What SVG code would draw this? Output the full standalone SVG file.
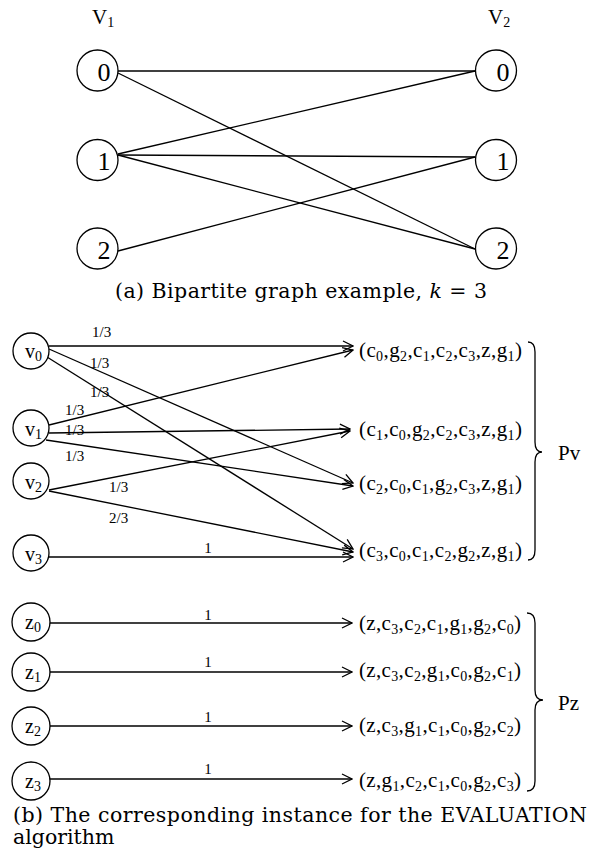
<svg xmlns="http://www.w3.org/2000/svg" width="602" height="859" viewBox="0 0 602 859" font-family="Liberation Serif, Times New Roman, Times, serif">
<style>
  text { fill: #000; }
  .nd { fill: #fff; stroke: #000; stroke-width: 1.3; }
  .ln { stroke: #000; stroke-width: 1.3; fill: none; }
  .ar { stroke: #000; stroke-width: 1.3; fill: none; marker-end: url(#arr); }
  .big { font-size: 26px; text-anchor: middle; }
  .hdr { font-size: 21px; }
  .lab { font-size: 20px; }
  .tgt { font-size: 21px; }
  .s { font-size: 14px; }
  .w { font-size: 15px; }
  .cap { font-size: 20.5px; font-family: 'DejaVu Serif', 'Liberation Serif', serif; }
  .brace { stroke: #000; stroke-width: 1.3; fill: none; }
</style>
<defs>
  <marker id="arr" viewBox="0 0 12 12" refX="11" refY="6" markerWidth="12" markerHeight="12" markerUnits="userSpaceOnUse" orient="auto">
    <path d="M1,1 L11,6 L1,11" fill="none" stroke="#000" stroke-width="1.3"/>
  </marker>
</defs>

<!-- Part (a) -->
<g id="hdr-V1"><text class="hdr" x="92" y="24">V<tspan class="s" dy="3">1</tspan></text></g>
<g id="hdr-V2"><text class="hdr" x="488" y="24">V<tspan class="s" dy="3">2</tspan></text></g>

<g id="connectors-a">
  <line class="ln" x1="118" y1="71" x2="475" y2="71"/>
  <line class="ln" x1="118" y1="73" x2="475" y2="249"/>
  <line class="ln" x1="118" y1="154" x2="475" y2="71"/>
  <line class="ln" x1="118" y1="155" x2="475" y2="157"/>
  <line class="ln" x1="118" y1="155" x2="475" y2="249"/>
  <line class="ln" x1="118" y1="251" x2="475" y2="157"/>
</g>

<g id="L0"><circle class="nd" cx="97.5" cy="70.5" r="20.5"/><text class="big" x="104" y="81">0</text></g>
<g id="L1"><circle class="nd" cx="97.5" cy="160" r="20.5"/><text class="big" x="104" y="170">1</text></g>
<g id="L2"><circle class="nd" cx="97.5" cy="248.5" r="20.5"/><text class="big" x="104" y="259">2</text></g>
<g id="R0"><circle class="nd" cx="496" cy="70.5" r="20.5"/><text class="big" x="503" y="81">0</text></g>
<g id="R1"><circle class="nd" cx="496" cy="160" r="20.5"/><text class="big" x="503" y="170">1</text></g>
<g id="R2"><circle class="nd" cx="496" cy="248.5" r="20.5"/><text class="big" x="503" y="259">2</text></g>

<g id="caption-a"><text class="cap" x="115" y="298" textLength="372">(a) Bipartite graph example, <tspan font-style="italic">k</tspan> = 3</text></g>

<!-- Part (b) connectors -->
<g id="connectors-b">
  <line class="ar" x1="49" y1="346" x2="353" y2="346"/>
  <line class="ar" x1="49" y1="349" x2="353" y2="483"/>
  <line class="ar" x1="47" y1="357" x2="353" y2="549"/>
  <line class="ar" x1="49" y1="425" x2="353" y2="350"/>
  <line class="ar" x1="49" y1="433" x2="350" y2="429"/>
  <line class="ar" x1="46" y1="440" x2="353" y2="486"/>
  <line class="ar" x1="49" y1="490" x2="350" y2="431"/>
  <line class="ar" x1="49" y1="491" x2="353" y2="552"/>
  <line class="ar" x1="49" y1="557" x2="353" y2="557"/>
  <line class="ar" x1="49" y1="623" x2="352" y2="623"/>
  <line class="ar" x1="49" y1="672" x2="352" y2="672"/>
  <line class="ar" x1="49" y1="726" x2="352" y2="726"/>
  <line class="ar" x1="49" y1="779" x2="352" y2="779"/>
  <text class="w" x="92" y="337">1/3</text>
  <text class="w" x="90" y="368">1/3</text>
  <text class="w" x="90" y="397">1/3</text>
  <text class="w" x="65" y="415">1/3</text>
  <text class="w" x="65" y="435">1/3</text>
  <text class="w" x="65" y="461">1/3</text>
  <text class="w" x="109" y="492">1/3</text>
  <text class="w" x="109" y="523">2/3</text>
  <text class="w" x="208" y="553" text-anchor="middle">1</text>
  <text class="w" x="208" y="620" text-anchor="middle">1</text>
  <text class="w" x="208" y="667" text-anchor="middle">1</text>
  <text class="w" x="208" y="722" text-anchor="middle">1</text>
  <text class="w" x="208" y="774" text-anchor="middle">1</text>
</g>

<!-- Part (b) source nodes -->
<g id="v0"><circle class="nd" cx="31" cy="351" r="18"/><text class="lab" x="25" y="358">v<tspan class="s" dy="3">0</tspan></text></g>
<g id="v1"><circle class="nd" cx="31" cy="428" r="18"/><text class="lab" x="25" y="436">v<tspan class="s" dy="3">1</tspan></text></g>
<g id="v2"><circle class="nd" cx="31" cy="481" r="18"/><text class="lab" x="25" y="489">v<tspan class="s" dy="3">2</tspan></text></g>
<g id="v3"><circle class="nd" cx="31" cy="553" r="18"/><text class="lab" x="25" y="561">v<tspan class="s" dy="3">3</tspan></text></g>
<g id="z0"><circle class="nd" cx="31" cy="622" r="19"/><text class="lab" x="25" y="629">z<tspan class="s" dy="3">0</tspan></text></g>
<g id="z1"><circle class="nd" cx="31" cy="672" r="19"/><text class="lab" x="25" y="679">z<tspan class="s" dy="3">1</tspan></text></g>
<g id="z2"><circle class="nd" cx="31" cy="726" r="19"/><text class="lab" x="25" y="733">z<tspan class="s" dy="3">2</tspan></text></g>
<g id="z3"><circle class="nd" cx="31" cy="781" r="19"/><text class="lab" x="25" y="788">z<tspan class="s" dy="3">3</tspan></text></g>

<!-- Part (b) target nodes -->
<g id="t0"><text class="tgt" x="359" y="357" textLength="163">(c<tspan class="s" dy="4">0</tspan><tspan dy="-4">,g</tspan><tspan class="s" dy="4">2</tspan><tspan dy="-4">,c</tspan><tspan class="s" dy="4">1</tspan><tspan dy="-4">,c</tspan><tspan class="s" dy="4">2</tspan><tspan dy="-4">,c</tspan><tspan class="s" dy="4">3</tspan><tspan dy="-4">,z,g</tspan><tspan class="s" dy="4">1</tspan><tspan dy="-4">)</tspan></text></g>
<g id="t1"><text class="tgt" x="359" y="436" textLength="163">(c<tspan class="s" dy="4">1</tspan><tspan dy="-4">,c</tspan><tspan class="s" dy="4">0</tspan><tspan dy="-4">,g</tspan><tspan class="s" dy="4">2</tspan><tspan dy="-4">,c</tspan><tspan class="s" dy="4">2</tspan><tspan dy="-4">,c</tspan><tspan class="s" dy="4">3</tspan><tspan dy="-4">,z,g</tspan><tspan class="s" dy="4">1</tspan><tspan dy="-4">)</tspan></text></g>
<g id="t2"><text class="tgt" x="359" y="490" textLength="163">(c<tspan class="s" dy="4">2</tspan><tspan dy="-4">,c</tspan><tspan class="s" dy="4">0</tspan><tspan dy="-4">,c</tspan><tspan class="s" dy="4">1</tspan><tspan dy="-4">,g</tspan><tspan class="s" dy="4">2</tspan><tspan dy="-4">,c</tspan><tspan class="s" dy="4">3</tspan><tspan dy="-4">,z,g</tspan><tspan class="s" dy="4">1</tspan><tspan dy="-4">)</tspan></text></g>
<g id="t3"><text class="tgt" x="359" y="557" textLength="163">(c<tspan class="s" dy="4">3</tspan><tspan dy="-4">,c</tspan><tspan class="s" dy="4">0</tspan><tspan dy="-4">,c</tspan><tspan class="s" dy="4">1</tspan><tspan dy="-4">,c</tspan><tspan class="s" dy="4">2</tspan><tspan dy="-4">,g</tspan><tspan class="s" dy="4">2</tspan><tspan dy="-4">,z,g</tspan><tspan class="s" dy="4">1</tspan><tspan dy="-4">)</tspan></text></g>
<g id="tz0"><text class="tgt" x="359" y="630" textLength="162">(z,c<tspan class="s" dy="4">3</tspan><tspan dy="-4">,c</tspan><tspan class="s" dy="4">2</tspan><tspan dy="-4">,c</tspan><tspan class="s" dy="4">1</tspan><tspan dy="-4">,g</tspan><tspan class="s" dy="4">1</tspan><tspan dy="-4">,g</tspan><tspan class="s" dy="4">2</tspan><tspan dy="-4">,c</tspan><tspan class="s" dy="4">0</tspan><tspan dy="-4">)</tspan></text></g>
<g id="tz1"><text class="tgt" x="359" y="677" textLength="162">(z,c<tspan class="s" dy="4">3</tspan><tspan dy="-4">,c</tspan><tspan class="s" dy="4">2</tspan><tspan dy="-4">,g</tspan><tspan class="s" dy="4">1</tspan><tspan dy="-4">,c</tspan><tspan class="s" dy="4">0</tspan><tspan dy="-4">,g</tspan><tspan class="s" dy="4">2</tspan><tspan dy="-4">,c</tspan><tspan class="s" dy="4">1</tspan><tspan dy="-4">)</tspan></text></g>
<g id="tz2"><text class="tgt" x="359" y="732" textLength="162">(z,c<tspan class="s" dy="4">3</tspan><tspan dy="-4">,g</tspan><tspan class="s" dy="4">1</tspan><tspan dy="-4">,c</tspan><tspan class="s" dy="4">1</tspan><tspan dy="-4">,c</tspan><tspan class="s" dy="4">0</tspan><tspan dy="-4">,g</tspan><tspan class="s" dy="4">2</tspan><tspan dy="-4">,c</tspan><tspan class="s" dy="4">2</tspan><tspan dy="-4">)</tspan></text></g>
<g id="tz3"><text class="tgt" x="359" y="787" textLength="162">(z,g<tspan class="s" dy="4">1</tspan><tspan dy="-4">,c</tspan><tspan class="s" dy="4">2</tspan><tspan dy="-4">,c</tspan><tspan class="s" dy="4">1</tspan><tspan dy="-4">,c</tspan><tspan class="s" dy="4">0</tspan><tspan dy="-4">,g</tspan><tspan class="s" dy="4">2</tspan><tspan dy="-4">,c</tspan><tspan class="s" dy="4">3</tspan><tspan dy="-4">)</tspan></text></g>

<!-- Braces -->
<g id="brace-Pv">
  <path class="brace" d="M528,342 Q535,342 535,352 L535,442 Q535,452 542,452 Q535,452 535,462 L535,550 Q535,560 528,560"/>
  <text class="hdr" x="558" y="460">Pv</text>
</g>
<g id="brace-Pz">
  <path class="brace" d="M527,613 Q535,613 535,623 L535,690 Q535,700 543,700 Q535,700 535,710 L535,781 Q535,791 527,791"/>
  <text class="hdr" x="558" y="710">Pz</text>
</g>

<g id="caption-b">
  <text class="cap" x="13" y="822" textLength="574">(b) The corresponding instance for the EVALUATION</text>
  <text class="cap" x="13" y="844">algorithm</text>
</g>
</svg>
